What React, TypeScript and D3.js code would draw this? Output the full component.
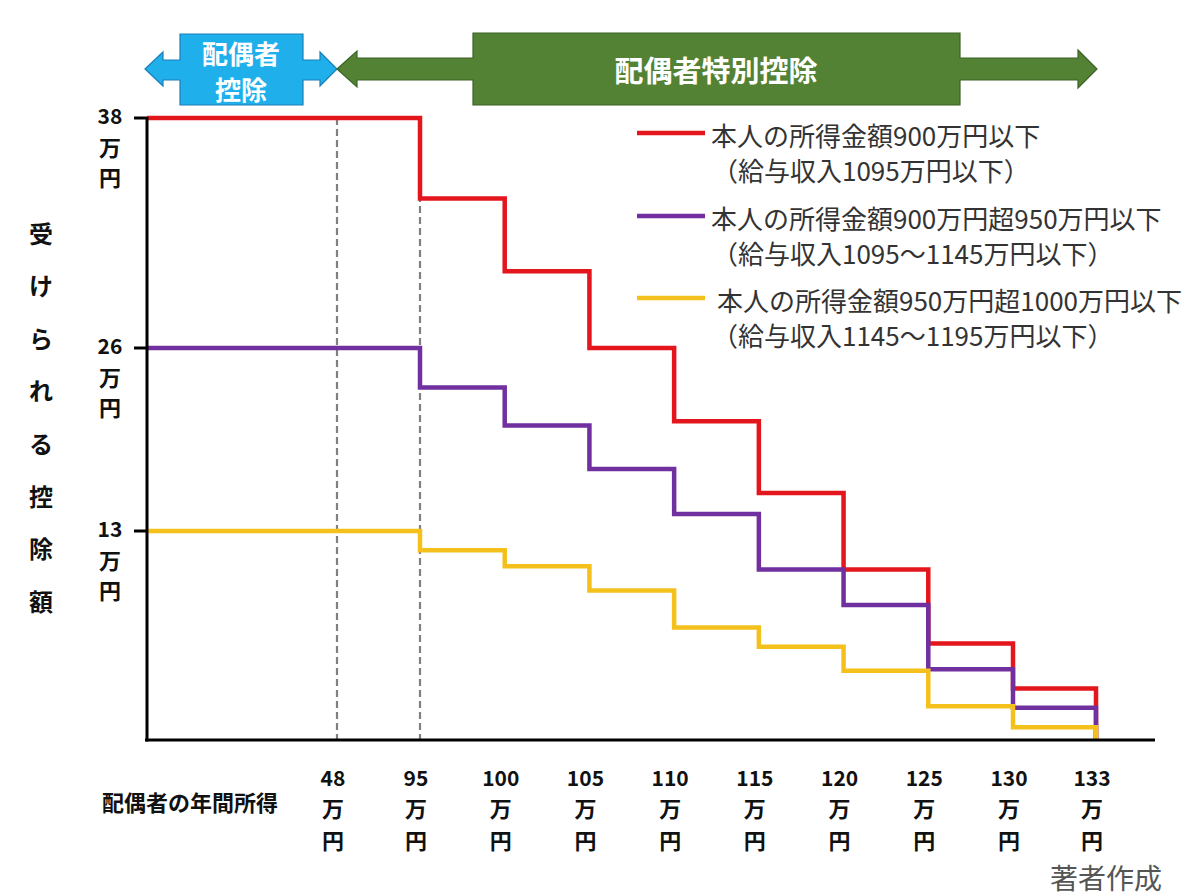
import React from 'react';
import * as d3 from 'd3';

const W = 1200;
const H = 896;
const FONT = '"Noto Sans CJK JP", "Noto Sans", sans-serif';

// spouse income breakpoints (万円) where the deduction steps down
const incomeSteps = [0, 95, 100, 105, 110, 115, 120, 125, 130, 133];
const xTickValues = [48, 95, 100, 105, 110, 115, 120, 125, 130, 133];
const guideValues = [48, 95];
const yTickValues = [38, 26, 13];

// deduction amount (万円) for each step, one list per taxpayer income band
const redValues = [38, 33.8, 30.0, 26, 20.8, 15.7, 10.6, 6.0, 3.2, 0];
const purpleValues = [26, 23.2, 20.5, 17.4, 14.2, 10.6, 8.4, 4.4, 2.0, 0];
const yellowValues = [13, 11.8, 10.8, 9.3, 7.0, 5.8, 4.3, 2.1, 0.8, 0];

const seriesColors = ['#e3161d', '#7030a0', '#f4c11c'];
const seriesLabels = [
  '本人の所得金額900万円以下',
  '本人の所得金額900万円超950万円以下',
  '本人の所得金額950万円超1000万円以下',
];
const seriesSubLabels = [
  '（給与収入1095万円以下）',
  '（給与収入1095～1145万円以下）',
  '（給与収入1145～1195万円以下）',
];
const yTitle = '受けられる控除額';

export default function App() {
  // axes are not to scale in the original, so both scales are piecewise
  const x = d3.scaleLinear().domain([0, 48, 95, 130, 133]).range([147, 337, 420, 1013, 1096]);
  const y = d3.scaleLinear().domain([0, 13, 26, 38]).range([740, 531, 348, 118]);

  const line = d3
    .line<[number, number]>()
    .x((d) => x(d[0]))
    .y((d) => y(d[1]))
    .curve(d3.curveStepAfter);

  const series = [redValues, purpleValues, yellowValues].map((vals) =>
    incomeSteps.map((s, i) => [s, vals[i]] as [number, number])
  );

  const x0 = x(0);
  const yBase = y(0);
  const yTop = y(38);

  // double arrow for 配偶者控除
  const blue = 'M145,69 L163,52 L163,60 L180,60 L180,34 L303,34 L303,60 L320,60 L320,52 L337,69 L320,86 L320,80 L303,80 L303,105 L180,105 L180,80 L163,80 L163,86 Z';
  // long arrow for 配偶者特別控除
  const green = 'M337,69 L357,51 L357,58 L473,58 L473,33 L960,33 L960,58 L1078,58 L1078,50 L1097,69 L1078,88 L1078,80 L960,80 L960,105 L473,105 L473,80 L357,80 L357,87 Z';

  return (
    <svg width={W} height={H} style={{ position: 'absolute', left: 0, top: 0, background: '#fff' }} fontFamily={FONT}>
      <rect width={W} height={H} fill="#fff" />

      <path d={blue} fill="#1fb0ec" stroke="#1b7fb8" strokeWidth={1.2} />
      <text x={241} y={52} fill="#fff" fontSize={26} fontWeight={700} textAnchor="middle" dominantBaseline="central">配偶者</text>
      <text x={241} y={88} fill="#fff" fontSize={26} fontWeight={700} textAnchor="middle" dominantBaseline="central">控除</text>

      <path d={green} fill="#548235" stroke="#3b6325" strokeWidth={1.2} />
      <text x={716} y={69} fill="#fff" fontSize={29} fontWeight={700} textAnchor="middle" dominantBaseline="central">配偶者特別控除</text>

      {guideValues.map((g) => (
        <line key={g} x1={x(g)} x2={x(g)} y1={yTop} y2={yBase} stroke="#808080" strokeWidth={2.2} strokeDasharray="7,4" />
      ))}

      {series.map((pts, i) => (
        <path key={i} d={line(pts) || ''} fill="none" stroke={seriesColors[i]} strokeWidth={4.5} strokeLinejoin="miter" />
      ))}

      <line x1={x0} x2={x0} y1={yTop - 1} y2={yBase + 1.5} stroke="#000" strokeWidth={3} />
      <line x1={x0 - 2} x2={1155} y1={yBase} y2={yBase} stroke="#000" strokeWidth={3} />

      {yTickValues.map((v) => (
        <g key={v} transform={`translate(0,${y(v)})`}>
          <line x1={134} x2={x0} stroke="#000" strokeWidth={3} />
          <text x={110} y={-3} fontSize={21} fontWeight={700} textAnchor="middle" dominantBaseline="central" fill="#111">{v}</text>
          <text x={110} y={28} fontSize={22} fontWeight={700} textAnchor="middle" dominantBaseline="central" fill="#111">万</text>
          <text x={110} y={58} fontSize={22} fontWeight={700} textAnchor="middle" dominantBaseline="central" fill="#111">円</text>
        </g>
      ))}

      {yTitle.split('').map((c, i) => (
        <text key={i} x={41} y={232 + i * 52.6} fontSize={24} fontWeight={700} textAnchor="middle" dominantBaseline="central" fill="#111">{c}</text>
      ))}

      {xTickValues.map((v) => (
        <g key={v} transform={`translate(${x(v) - 4},0)`}>
          <text y={777} fontSize={21} fontWeight={700} textAnchor="middle" dominantBaseline="central" fill="#111">{v}</text>
          <text y={807} fontSize={22} fontWeight={700} textAnchor="middle" dominantBaseline="central" fill="#111">万</text>
          <text y={839} fontSize={22} fontWeight={700} textAnchor="middle" dominantBaseline="central" fill="#111">円</text>
        </g>
      ))}
      <text x={102} y={801} fontSize={22} fontWeight={700} dominantBaseline="central" fill="#111">配偶者の年間所得</text>

      {seriesLabels.map((lab, i) => {
        const ly = [133, 216, 298][i];
        return (
          <g key={i}>
            <line x1={637} x2={705} y1={ly} y2={ly} stroke={seriesColors[i]} strokeWidth={4.5} />
            <text x={i === 2 ? 717 : 711} y={ly + 1} fontSize={26} dominantBaseline="central" fill="#333">{lab}</text>
            <text x={712} y={ly + 36} fontSize={26} dominantBaseline="central" fill="#333">{seriesSubLabels[i]}</text>
          </g>
        );
      })}

      <text x={1050} y={877} fontSize={28} dominantBaseline="central" fill="#555">著者作成</text>
    </svg>
  );
}
